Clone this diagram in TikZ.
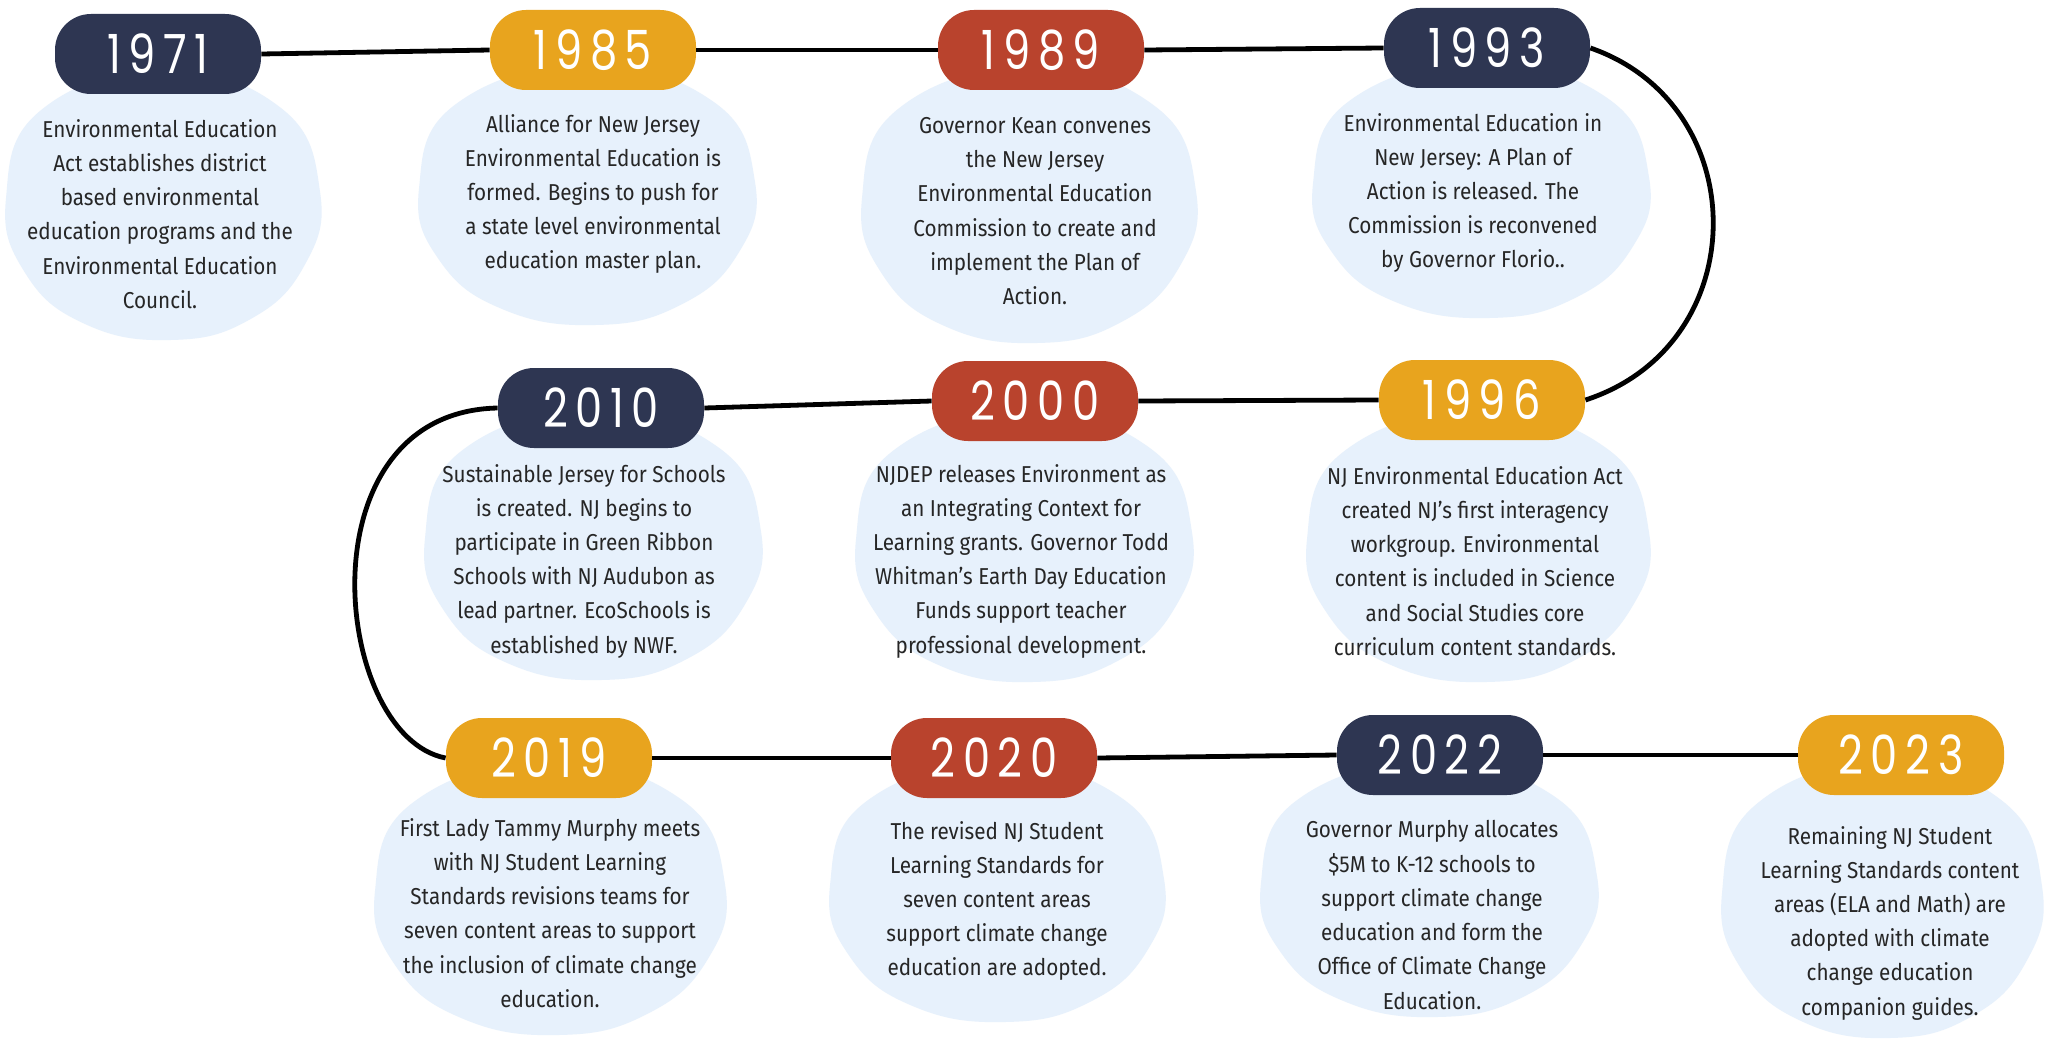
\documentclass[tikz,border=0pt]{standalone}
\usepackage{fontspec}
\setmainfont{Fira Sans}[FakeStretch=0.9]
\newfontfamily\yearfont{Poppins}[FakeStretch=0.8, LetterSpace=14]
\definecolor{navy}{HTML}{2E3652}
\definecolor{gold}{HTML}{E8A41E}
\definecolor{rust}{HTML}{B9432D}
\definecolor{blobc}{HTML}{E7F1FC}
\definecolor{txtc}{HTML}{262626}
\tikzset{
  pill/.style={rectangle, rounded corners=18pt, minimum width=103pt, minimum height=40pt,
    inner sep=0pt, text=white, font=\yearfont\fontsize{27}{30}\selectfont},
  desc/.style={align=center, text=txtc, inner sep=0pt, font=\fontsize{11.5}{17.1}\selectfont},
  conn/.style={line width=2.4pt, black},
}
\newcommand\myblob[4]{%
  \fill[blobc] plot[smooth cycle, tension=0.75] coordinates {
    ({#1+0.00*#3},{#2-1.00*#4})
    ({#1+0.75*#3},{#2-0.72*#4})
    ({#1+1.00*#3},{#2-0.10*#4})
    ({#1+0.90*#3},{#2+0.45*#4})
    ({#1+0.55*#3},{#2+0.85*#4})
    ({#1+0.05*#3},{#2+1.00*#4})
    ({#1-0.50*#3},{#2+0.88*#4})
    ({#1-0.88*#3},{#2+0.50*#4})
    ({#1-1.00*#3},{#2-0.05*#4})
    ({#1-0.78*#3},{#2-0.70*#4})
  };}
\begin{document}
\begin{tikzpicture}[x=0.5pt,y=-0.5pt]
\useasboundingbox (0,0) rectangle (2049,1038);
\fill[white] (0,0) rectangle (2049,1038);
% blobs
\myblob{163}{205}{157}{135}
\myblob{587}{195}{168}{130}
\myblob{1029}{205}{167}{138}
\myblob{1481}{190}{168}{128}
\myblob{593}{545}{168}{135}
\myblob{1024}{546}{168}{136}
\myblob{1478}{546}{171}{136}
\myblob{550}{898}{175}{137}
\myblob{997}{892}{167}{130}
\myblob{1429}{889}{168}{128}
\myblob{1882}{900}{160}{138}
% pills
\node[pill, fill=navy] (p1971) at (158,54) {1971};
\node[pill, fill=gold] (p1985) at (593,50) {1985};
\node[pill, fill=rust] (p1989) at (1041,50) {1989};
\node[pill, fill=navy] (p1993) at (1487,48) {1993};
\node[pill, fill=navy] (p2010) at (601,408) {2010};
\node[pill, fill=rust] (p2000) at (1035,401) {2000};
\node[pill, fill=gold] (p1996) at (1482,400) {1996};
\node[pill, fill=gold] (p2019) at (549,758) {2019};
\node[pill, fill=rust] (p2020) at (994,758) {2020};
\node[pill, fill=navy] (p2022) at (1440,755) {2022};
\node[pill, fill=gold] (p2023) at (1901,755) {2023};
% connectors
\draw[conn] (p1971.east) -- (p1985.west);
\draw[conn] (p1985.east) -- (p1989.west);
\draw[conn] (p1989.east) -- (p1993.west);
\draw[conn] (p1993.east) .. controls (1755,105) and (1755,345) .. (p1996.east);
\draw[conn] (p1996.west) -- (p2000.east);
\draw[conn] (p2000.west) -- (p2010.east);
\draw[conn] (p2010.west) .. controls (300,412) and (332,736) .. (p2019.west);
\draw[conn] (p2019.east) -- (p2020.west);
\draw[conn] (p2020.east) -- (p2022.west);
\draw[conn] (p2022.east) -- (p2023.west);
% descriptions
\node[desc] (t1971) at (160,214) {Environmental Education\\Act establishes district\\based environmental\\education programs and the\\Environmental Education\\Council.};
\node[desc] (t1985) at (593,194) {Alliance for New Jersey\\Environmental Education is\\formed. Begins to push for\\a state level environmental\\education master plan.};
\node[desc] (t1989) at (1035,211) {Governor Kean convenes\\the New Jersey\\Environmental Education\\Commission to create and\\implement the Plan of\\Action.};
\node[desc] (t1993) at (1473,193) {Environmental Education in\\New Jersey: A Plan of\\Action is released. The\\Commission is reconvened\\by Governor Florio..};
\node[desc] (t2010) at (584,561) {Sustainable Jersey for Schools\\is created. NJ begins to\\participate in Green Ribbon\\Schools with NJ Audubon as\\lead partner. EcoSchools is\\established by NWF.};
\node[desc] (t2000) at (1021,561) {NJDEP releases Environment as\\an Integrating Context for\\Learning grants. Governor Todd\\Whitman’s Earth Day Education\\Funds support teacher\\professional development.};
\node[desc] (t1996) at (1475,561) {NJ Environmental Education Act\\created NJ’s first interagency\\workgroup. Environmental\\content is included in Science\\and Social Studies core\\curriculum content standards.};
\node[desc] (t2019) at (550,913) {First Lady Tammy Murphy meets\\with NJ Student Learning\\Standards revisions teams for\\seven content areas to support\\the inclusion of climate change\\education.};
\node[desc] (t2020) at (997,901) {The revised NJ Student\\Learning Standards for\\seven content areas\\support climate change\\education are adopted.};
\node[desc] (t2022) at (1432,915) {Governor Murphy allocates\\\$5M to K-12 schools to\\support climate change\\education and form the\\Office of Climate Change\\Education.};
\node[desc] (t2023) at (1890,923) {Remaining NJ Student\\Learning Standards content\\areas (ELA and Math) are\\adopted with climate\\change education\\companion guides.};
\end{tikzpicture}
\end{document}
